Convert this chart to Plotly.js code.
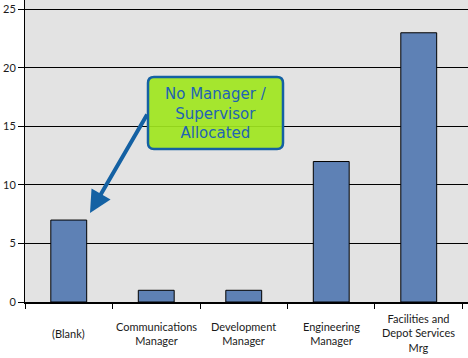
<!DOCTYPE html>
<html><head><meta charset="utf-8">
<script src="https://cdn.plot.ly/plotly-3.0.1.min.js"></script>
<style>html,body{margin:0;padding:0;background:#fff}#chart{width:468px;height:358px}</style>
</head><body><div id="chart"></div>
<script>
const categories = ["(Blank)", "Communications<br>Manager", "Development<br>Manager", "Engineering<br>Manager", "Facilities and<br>Depot Services<br>Mrg"];
const values = [7, 1, 1, 12, 23];
const yTicks = [0, 5, 10, 15, 20, 25];
const calloutText = "No Manager /<br>Supervisor<br>Allocated";

const W = 443, H = 302;
function px(x){return (x-25)/W;}
function py(y){return (H-y)/H;}
// rounded rect path in paper coords
const bx0=148, bx1=283, by0=77, by1=149, r=6;
const rx=r/W, ry=r/H;
const X0=px(bx0), X1=px(bx1), Y0=py(by1), Y1=py(by0);
const path = `M ${X0+rx},${Y1} L ${X1-rx},${Y1} Q ${X1},${Y1} ${X1},${Y1-ry} L ${X1},${Y0+ry} Q ${X1},${Y0} ${X1-rx},${Y0} L ${X0+rx},${Y0} Q ${X0},${Y0} ${X0},${Y0+ry} L ${X0},${Y1-ry} Q ${X0},${Y1} ${X0+rx},${Y1} Z`;

const annotations = categories.map((c,i)=>({
  x: i, xref:'x', y: py(333), yref:'paper', text: c, showarrow:false,
  xanchor:'center', yanchor:'middle', align:'center',
  font:{family:'Lato, "Liberation Sans", sans-serif', size:11, color:'#1a1a1a'}
}));
annotations.push({
  x: px(215.5), y: py(113), xref:'paper', yref:'paper', text: calloutText, showarrow:false,
  xanchor:'center', yanchor:'middle', align:'center',
  font:{family:'"DejaVu Sans", sans-serif', size:15, color:'#1F63B4'}
});
annotations.push({
  x: px(90), y: py(213), xref:'paper', yref:'paper', text:'', showarrow:true,
  ax: 58, ay: -100, arrowhead:2, arrowsize:1.1, arrowwidth:4, arrowcolor:'#1461A3'
});

Plotly.newPlot('chart', [{
  type:'bar', x: categories, y: values,
  marker:{color:'#5E81B5', line:{color:'#000', width:1}},
  width:0.41, hoverinfo:'none'
}], {
  width:468, height:358,
  margin:{l:25, r:0, t:0, b:56, pad:0},
  paper_bgcolor:'#ffffff', plot_bgcolor:'#E3E3E3',
  showlegend:false,
  bargap:0.59,
  xaxis:{
    type:'category', range:[-0.5, 4.563], showticklabels:false,
    ticks:'outside', tickson:'boundaries', ticklen:5, tickcolor:'#000', tickwidth:1,
    showline:true, linecolor:'#000', linewidth:2, showgrid:false, zeroline:false, fixedrange:true
  },
  yaxis:{
    range:[0, 25.8], tickvals: yTicks, ticktext: yTicks.map(String),
    ticks:'outside', ticklen:6, tickcolor:'#000', tickwidth:1,
    showline:true, linecolor:'#000', linewidth:1,
    showgrid:true, gridcolor:'#000', gridwidth:1, zeroline:false,
    tickfont:{family:'Lato, "Liberation Sans", sans-serif', size:11, color:'#1a1a1a'}
  },
  shapes:[{type:'path', path:path, xref:'paper', yref:'paper', fillcolor:'rgba(160,230,30,0.92)', line:{color:'#1461A3', width:2.5}, layer:'above'}],
  annotations: annotations
}, {displayModeBar:false, staticPlot:true});
</script></body></html>
